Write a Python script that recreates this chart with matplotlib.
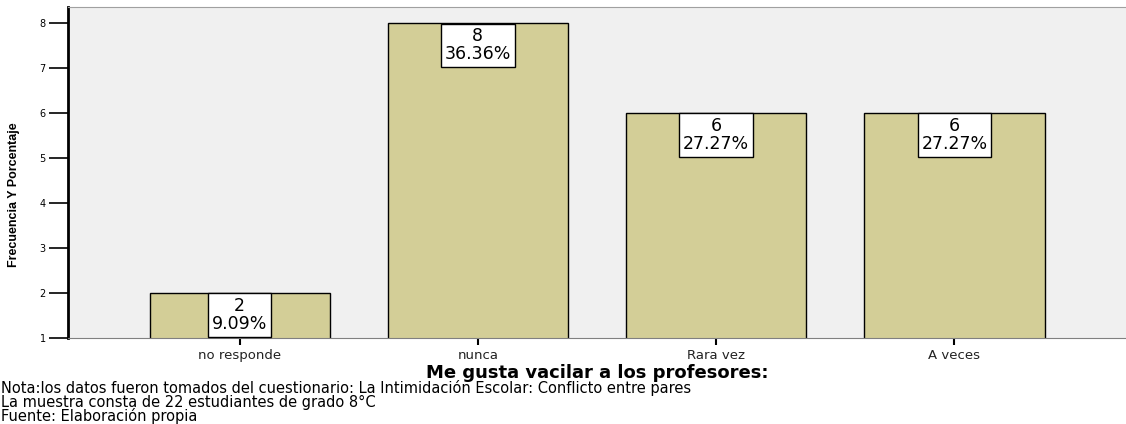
import matplotlib.pyplot as plt

categories = ['no responde', 'nunca', 'Rara vez', 'A veces']
counts = [2, 8, 6, 6]
percents = ['9.09%', '36.36%', '27.27%', '27.27%']
y_ticks = [1, 2, 3, 4, 5, 6, 7, 8]
notes = [
    'Nota:los datos fueron tomados del cuestionario: La Intimidación Escolar: Conflicto entre pares',
    'La muestra consta de 22 estudiantes de grado 8°C',
    'Fuente: Elaboración propia',
]

plt.rcParams['font.family'] = ['DejaVu Sans']

fig = plt.figure(figsize=(11.26, 4.24), dpi=100)
ax = fig.add_axes([0.0604, 0.2028, 0.9396, 0.7807])
ax.set_facecolor('#f0f0f0')

x = range(len(categories))
ax.bar(x, counts, width=0.756, color='#d3ce97', edgecolor='black', linewidth=1, zorder=2)

# value boxes hanging from the top of each bar
for xi, c, p in zip(x, counts, percents):
    ax.annotate(f'{c}\n{p}', xy=(xi, c), xytext=(0, -3.0), textcoords='offset points',
                ha='center', va='top', fontsize=12.5, linespacing=1.0, zorder=3,
                bbox=dict(boxstyle='square,pad=0.22', facecolor='white', edgecolor='black', linewidth=1))

ax.set_xlim(-0.72, 3.72)
ax.set_ylim(1, 8.36)
ax.set_yticks(y_ticks)
ax.set_xticks(list(x))
ax.set_xticklabels(categories)
ax.tick_params(axis='y', length=14, width=1.2, labelsize=7, pad=2, color='black')
ax.tick_params(axis='x', length=5, width=1.5, labelsize=9.5, pad=3, color='black',
               labelcolor='#222222')

ax.spines['left'].set_linewidth(2)
ax.spines['left'].set_color('black')
ax.spines['bottom'].set_color('#808080')
ax.spines['top'].set_color('#a0a0a0')
ax.spines['right'].set_visible(False)

ax.set_ylabel('Frecuencia Y Porcentaje', fontsize=9, fontweight='bold',
              family=['Liberation Sans', 'DejaVu Sans'])
ax.yaxis.set_label_coords(-0.045, 0.432)
ax.set_xlabel('Me gusta vacilar a los profesores:', fontsize=13, fontweight='bold', labelpad=1)

for i, line in enumerate(notes):
    fig.text(0.001, 1 - (388 + 14 * i) / 424, line, fontsize=10.5, va='center', ha='left')

fig.savefig('out.png', dpi=100)
